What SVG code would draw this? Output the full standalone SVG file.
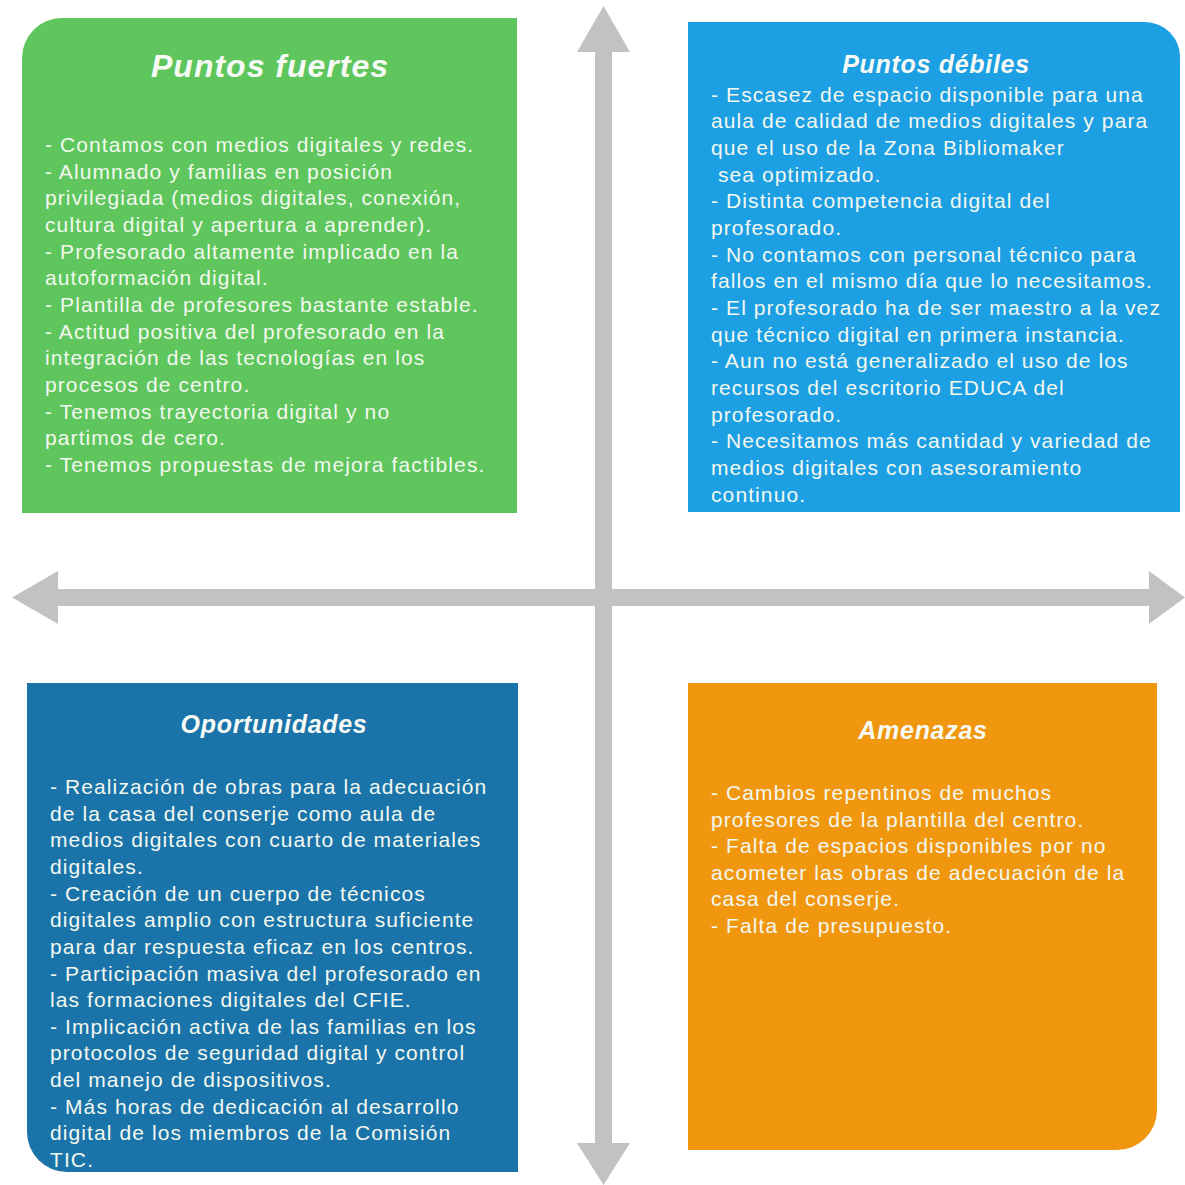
<svg xmlns="http://www.w3.org/2000/svg" width="1185" height="1185" viewBox="0 0 1185 1185">
<style>
.body{font-family:"Liberation Sans",Arial,sans-serif;font-size:21px;letter-spacing:1.1px;fill:#f3f8ef}
.title{font-family:"Liberation Sans",Arial,sans-serif;font-weight:bold;font-style:italic;fill:#f7faf5;text-anchor:middle}
.arrow{fill:#c2c2c2}
</style>
<rect width="1185" height="1185" fill="#ffffff"/>
<g id="connectors">
<rect class="arrow" x="595" y="50" width="17" height="1095"/>
<polygon class="arrow" points="603.5,6 630,52 577,52"/>
<polygon class="arrow" points="603.5,1185 630,1143 577,1143"/>
<rect class="arrow" x="56" y="589" width="1095" height="17"/>
<polygon class="arrow" points="12,597.5 58,571 58,624"/>
<polygon class="arrow" points="1185,597.5 1149,571 1149,624"/>
</g>
<g id="puntos-fuertes">
<path d="M62,18 H517 V513 H22 V58 A40,40 0 0 1 62,18 Z" fill="#5ec65d"/>
<text class="title" x="270" y="77" font-size="32" letter-spacing="1">Puntos fuertes</text>
<text class="body" x="45" y="152">- Contamos con medios digitales y redes.</text>
<text class="body" x="45" y="178.7">- Alumnado y familias en posición</text>
<text class="body" x="45" y="205.3">privilegiada (medios digitales, conexión,</text>
<text class="body" x="45" y="232">cultura digital y apertura a aprender).</text>
<text class="body" x="45" y="258.7">- Profesorado altamente implicado en la</text>
<text class="body" x="45" y="285.3">autoformación digital.</text>
<text class="body" x="45" y="312">- Plantilla de profesores bastante estable.</text>
<text class="body" x="45" y="338.7">- Actitud positiva del profesorado en la</text>
<text class="body" x="45" y="365.3">integración de las tecnologías en los</text>
<text class="body" x="45" y="392">procesos de centro.</text>
<text class="body" x="45" y="418.7">- Tenemos trayectoria digital y no</text>
<text class="body" x="45" y="445.3">partimos de cero.</text>
<text class="body" x="45" y="472">- Tenemos propuestas de mejora factibles.</text>
</g>
<g id="puntos-debiles">
<path d="M688,22 H1145 A35,35 0 0 1 1180,57 V512 H688 Z" fill="#1d9fe3"/>
<text class="title" x="936" y="73" font-size="25" letter-spacing="0.7">Puntos débiles</text>
<text class="body" x="711" y="101.7">- Escasez de espacio disponible para una</text>
<text class="body" x="711" y="128.4">aula de calidad de medios digitales y para</text>
<text class="body" x="711" y="155">que el uso de la Zona Bibliomaker</text>
<text class="body" x="711" y="181.7" xml:space="preserve"> sea optimizado.</text>
<text class="body" x="711" y="208.4">- Distinta competencia digital del</text>
<text class="body" x="711" y="235">profesorado.</text>
<text class="body" x="711" y="261.7">- No contamos con personal técnico para</text>
<text class="body" x="711" y="288.4">fallos en el mismo día que lo necesitamos.</text>
<text class="body" x="711" y="315">- El profesorado ha de ser maestro a la vez</text>
<text class="body" x="711" y="341.7">que técnico digital en primera instancia.</text>
<text class="body" x="711" y="368.4">- Aun no está generalizado el uso de los</text>
<text class="body" x="711" y="395">recursos del escritorio EDUCA del</text>
<text class="body" x="711" y="421.7">profesorado.</text>
<text class="body" x="711" y="448.4">- Necesitamos más cantidad y variedad de</text>
<text class="body" x="711" y="475">medios digitales con asesoramiento</text>
<text class="body" x="711" y="501.7">continuo.</text>
</g>
<g id="oportunidades">
<path d="M27,683 H518 V1172 H67 A40,40 0 0 1 27,1132 Z" fill="#1a74a9"/>
<text class="title" x="274" y="733" font-size="25" letter-spacing="0.7">Oportunidades</text>
<text class="body" x="50" y="794">- Realización de obras para la adecuación</text>
<text class="body" x="50" y="820.6">de la casa del conserje como aula de</text>
<text class="body" x="50" y="847.3">medios digitales con cuarto de materiales</text>
<text class="body" x="50" y="873.9">digitales.</text>
<text class="body" x="50" y="900.6">- Creación de un cuerpo de técnicos</text>
<text class="body" x="50" y="927.2">digitales amplio con estructura suficiente</text>
<text class="body" x="50" y="953.9">para dar respuesta eficaz en los centros.</text>
<text class="body" x="50" y="980.5">- Participación masiva del profesorado en</text>
<text class="body" x="50" y="1007.1">las formaciones digitales del CFIE.</text>
<text class="body" x="50" y="1033.8">- Implicación activa de las familias en los</text>
<text class="body" x="50" y="1060.4">protocolos de seguridad digital y control</text>
<text class="body" x="50" y="1087.1">del manejo de dispositivos.</text>
<text class="body" x="50" y="1113.7">- Más horas de dedicación al desarrollo</text>
<text class="body" x="50" y="1140.4">digital de los miembros de la Comisión</text>
<text class="body" x="50" y="1167">TIC.</text>
</g>
<g id="amenazas">
<path d="M688,683 H1157 V1110 A40,40 0 0 1 1117,1150 H688 Z" fill="#f0970f"/>
<text class="title" x="923" y="739" font-size="25" letter-spacing="0.7">Amenazas</text>
<text class="body" x="711" y="800">- Cambios repentinos de muchos</text>
<text class="body" x="711" y="826.6">profesores de la plantilla del centro.</text>
<text class="body" x="711" y="853.2">- Falta de espacios disponibles por no</text>
<text class="body" x="711" y="879.8">acometer las obras de adecuación de la</text>
<text class="body" x="711" y="906.4">casa del conserje.</text>
<text class="body" x="711" y="933">- Falta de presupuesto.</text>
</g>
</svg>
